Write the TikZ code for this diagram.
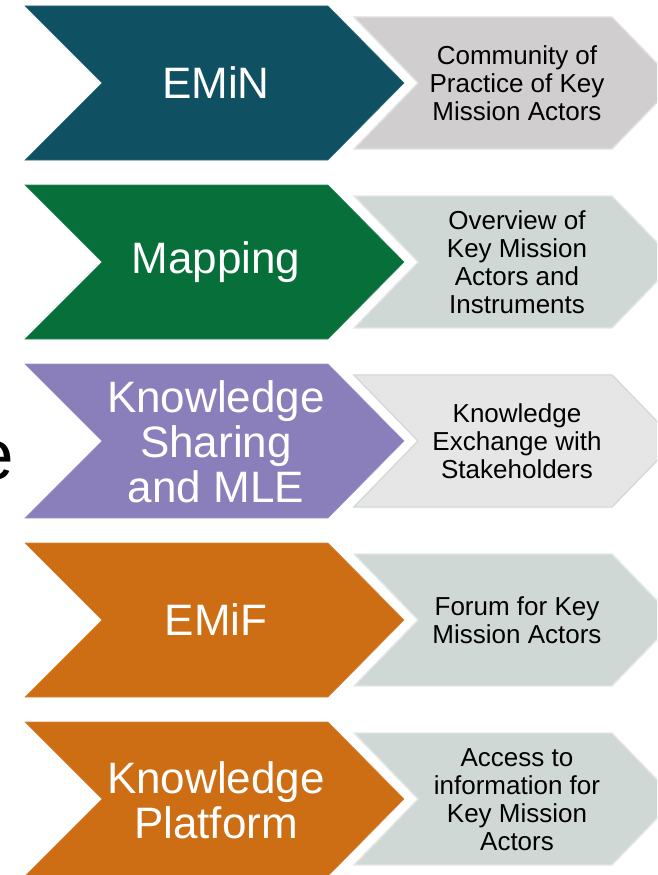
\documentclass[tikz,border=0pt]{standalone}
\usepackage{fontspec}
\setmainfont{Liberation Sans}
\definecolor{cteal}{HTML}{0F5162}
\definecolor{cgreen}{HTML}{07703A}
\definecolor{cpurple}{HTML}{8B7FBB}
\definecolor{corange}{HTML}{CD6E15}
\definecolor{gwarm}{HTML}{D0CECF}
\definecolor{ggreen}{HTML}{D0D8D5}
\definecolor{glight}{HTML}{E6E6E6}
\definecolor{gedge}{HTML}{D3DAD6}
\begin{document}
\begin{tikzpicture}[x=1pt,y=-1pt,
  bigtxt/.style={text=white,font=\fontsize{44}{45}\selectfont,align=center,inner sep=0pt},
  smalltxt/.style={text=black,font=\fontsize{26}{28}\selectfont,align=center,inner sep=0pt},
  bigchev/.style={fill=#1,draw=#1!85!white,line width=0.6pt},
  greychev/.style={fill=#1,draw=#1!60!white,line width=1.4pt}]
\useasboundingbox (0,0) rectangle (657,875);
\clip (0,0) rectangle (657,875);
\foreach \i/\bc/\gc in {0/cteal/gwarm,1/cgreen/ggreen,2/cpurple/glight,3/corange/ggreen,4/corange/ggreen}{
  \pgfmathsetmacro{\t}{6+179*\i}
  \fill[bigchev=\bc] (25,\t) -- (328,\t) -- (404,\t+77) -- (328,\t+154) -- (25,\t+154) -- (102,\t+77) -- cycle;
  \fill[greychev=\gc] (354,\t+11) -- (612,\t+11) -- (676,\t+77) -- (612,\t+143) -- (354,\t+143) -- (418,\t+77) -- cycle;
}
\draw[draw=gedge,line width=1.4pt] (354,375) -- (612,375) -- (676,441) -- (612,507) -- (354,507) -- (418,441) -- cycle;
\node[anchor=base east,font=\fontsize{71}{71}\selectfont,inner sep=0pt] (ecut) at (14,479) {e};
\node[bigtxt] (b1) at (216,83) {EMiN};
\node[bigtxt] (b2) at (216,262) {Mapping};
\node[bigtxt] (b3) at (216,442) {Knowledge\\Sharing\\and MLE};
\node[bigtxt] (b4) at (216,620) {EMiF};
\node[bigtxt] (b5) at (216,800) {Knowledge\\Platform};
\node[smalltxt] (s1) at (517,83) {Community of\\Practice of Key\\Mission Actors};
\node[smalltxt] (s2) at (517,262) {Overview of\\Key Mission\\Actors and\\Instruments};
\node[smalltxt] (s3) at (517,441) {Knowledge\\Exchange with\\Stakeholders};
\node[smalltxt] (s4) at (517,620) {Forum for Key\\Mission Actors};
\node[smalltxt] (s5) at (517,800) {Access to\\information for\\Key Mission\\Actors};
\end{tikzpicture}
\end{document}
